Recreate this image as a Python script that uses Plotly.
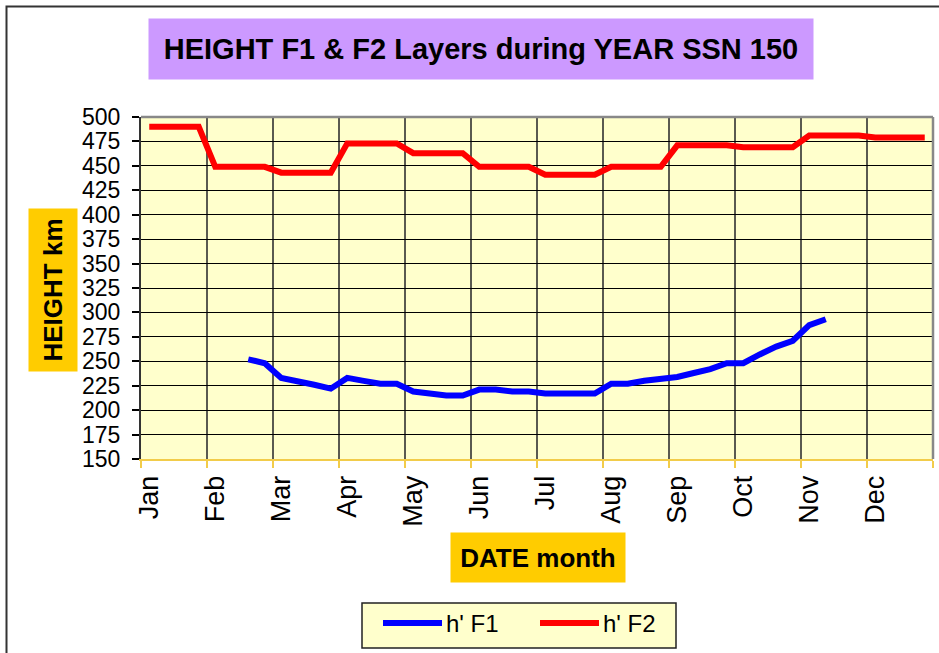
import numpy as np
import plotly.graph_objects as go

# Four readings per month (weekly), January to December
months = ["Jan", "Feb", "Mar", "Apr", "May", "Jun",
          "Jul", "Aug", "Sep", "Oct", "Nov", "Dec"]
weeks_per_month = 4

series_names = ["h' F1", "h' F2"]
series_colors = ["#0000FF", "#FF0000"]

# h'F1 virtual height (km), weekly; the layer is absent in winter weeks
h_f1 = [None, None, None, None,
        None, None, 252, 248,
        233, 230, 226, 222,
        233, 230, 227, 227,
        219, 217, 215, 215,
        221, 221, 219, 219,
        217, 217, 217, 217,
        227, 227, 230, 232,
        234, 238, 242, 248,
        248, 257, 265, 271,
        287, 293, None, None,
        None, None, None, None]

# h'F2 virtual height (km), weekly
h_f2 = [490, 490, 490, 490,
        449, 449, 449, 449,
        443, 443, 443, 443,
        473, 473, 473, 473,
        463, 463, 463, 463,
        449, 449, 449, 449,
        441, 441, 441, 441,
        449, 449, 449, 449,
        471, 471, 471, 471,
        469, 469, 469, 469,
        481, 481, 481, 481,
        479, 479, 479, 479]

y_ticks = list(range(150, 501, 25))

n_weeks = len(h_f2)
week_pos = np.arange(n_weeks) + 0.5          # centre of each weekly slot
month_pos = np.arange(len(months)) * weeks_per_month + 0.5

FONT = "Liberation Sans, Arial, sans-serif"

# plot-area geometry in pixels, used to place boxes outside the axes
W, H = 939, 653
L, R, T, B = 141, 933, 117, 459


def px(x):
    return (x - L) / (R - L)


def py(y):
    return (B - y) / (B - T)


fig = go.Figure()
for name, color, values in zip(series_names, series_colors, [h_f1, h_f2]):
    fig.add_trace(go.Scatter(x=week_pos, y=values, name=name, mode="lines",
                             line=dict(color=color, width=6),
                             connectgaps=False, showlegend=False))

fig.update_layout(
    width=W, height=H,
    margin=dict(l=L, r=W - R, t=T, b=H - B, pad=0),
    paper_bgcolor="white",
    plot_bgcolor="#FFFFCC",
    font=dict(family=FONT, color="black"),
    showlegend=False,
)

fig.update_xaxes(
    range=[0, n_weeks],
    tickmode="array", tickvals=month_pos, ticktext=months,
    tickangle=-90, tickfont=dict(family=FONT, size=27, color="black"),
    ticks="", showgrid=False, zeroline=False,
    ticklabelstandoff=4,
    showline=True, linecolor="#F2CC4A", linewidth=2,
    minor=dict(tickmode="linear", tick0=0, dtick=weeks_per_month,
               ticks="outside", ticklen=7, tickwidth=1.5,
               tickcolor="#F2CC4A",
               showgrid=True, gridcolor="#5A5A50", gridwidth=1.5),
)

fig.update_yaxes(
    range=[150, 500],
    tickmode="array", tickvals=y_ticks,
    tickfont=dict(family=FONT, size=23, color="black"),
    ticks="outside", ticklen=7, tickwidth=1.5, tickcolor="#000000",
    ticklabelstandoff=7,
    showgrid=True, gridcolor="#000000", gridwidth=1,
    zeroline=False,
    showline=True, linecolor="#333333", linewidth=2,
)

shapes = [
    # outer chart frame
    dict(type="rect", xref="paper", yref="paper",
         x0=px(6.5), x1=px(W + 20), y0=py(H + 20), y1=py(6.5),
         line=dict(color="#333333", width=2), fillcolor="rgba(0,0,0,0)"),
    # grey top and right border of the plot area
    dict(type="line", xref="paper", yref="paper", x0=0, x1=1, y0=1, y1=1,
         line=dict(color="#888888", width=2.5)),
    dict(type="line", xref="paper", yref="paper", x0=1, x1=1, y0=0, y1=1,
         line=dict(color="#888888", width=2.5)),
    # legend box
    dict(type="rect", xref="paper", yref="paper",
         x0=px(362), x1=px(676), y0=py(648), y1=py(603),
         line=dict(color="#222222", width=1.5), fillcolor="#FFFFCC"),
]

annotations = [
    dict(text="HEIGHT F1 & F2 Layers during YEAR SSN 150",
         xref="paper", yref="paper", x=px(481), y=py(49),
         xanchor="center", yanchor="middle", showarrow=False,
         width=664, height=60, bgcolor="#CC99FF", borderpad=0,
         font=dict(family=FONT, size=29, color="black", weight="bold")),
    dict(text="HEIGHT km", textangle=-90,
         xref="paper", yref="paper", x=px(53), y=py(290),
         xanchor="center", yanchor="middle", showarrow=False,
         width=162, height=48, bgcolor="#FFCC00", borderpad=0,
         font=dict(family=FONT, size=26, color="black", weight="bold")),
    dict(text="DATE month",
         xref="paper", yref="paper", x=px(538), y=py(557.5),
         xanchor="center", yanchor="middle", showarrow=False,
         width=174, height=49, bgcolor="#FFCC00", borderpad=0,
         font=dict(family=FONT, size=26, color="black", weight="bold")),
]

# legend entries: a line sample followed by the series name
legend_y = 623
legend_entries_x = [383, 540]
for name, color, x0 in zip(series_names, series_colors, legend_entries_x):
    shapes.append(dict(type="line", xref="paper", yref="paper",
                       x0=px(x0), x1=px(x0 + 59),
                       y0=py(legend_y), y1=py(legend_y),
                       line=dict(color=color, width=6)))
    annotations.append(dict(text=name, xref="paper", yref="paper",
                            x=px(x0 + 61), y=py(legend_y),
                            xanchor="left", yanchor="middle",
                            showarrow=False,
                            font=dict(family=FONT, size=24, color="black")))

fig.update_layout(shapes=shapes, annotations=annotations)

fig.write_html("out.html")
